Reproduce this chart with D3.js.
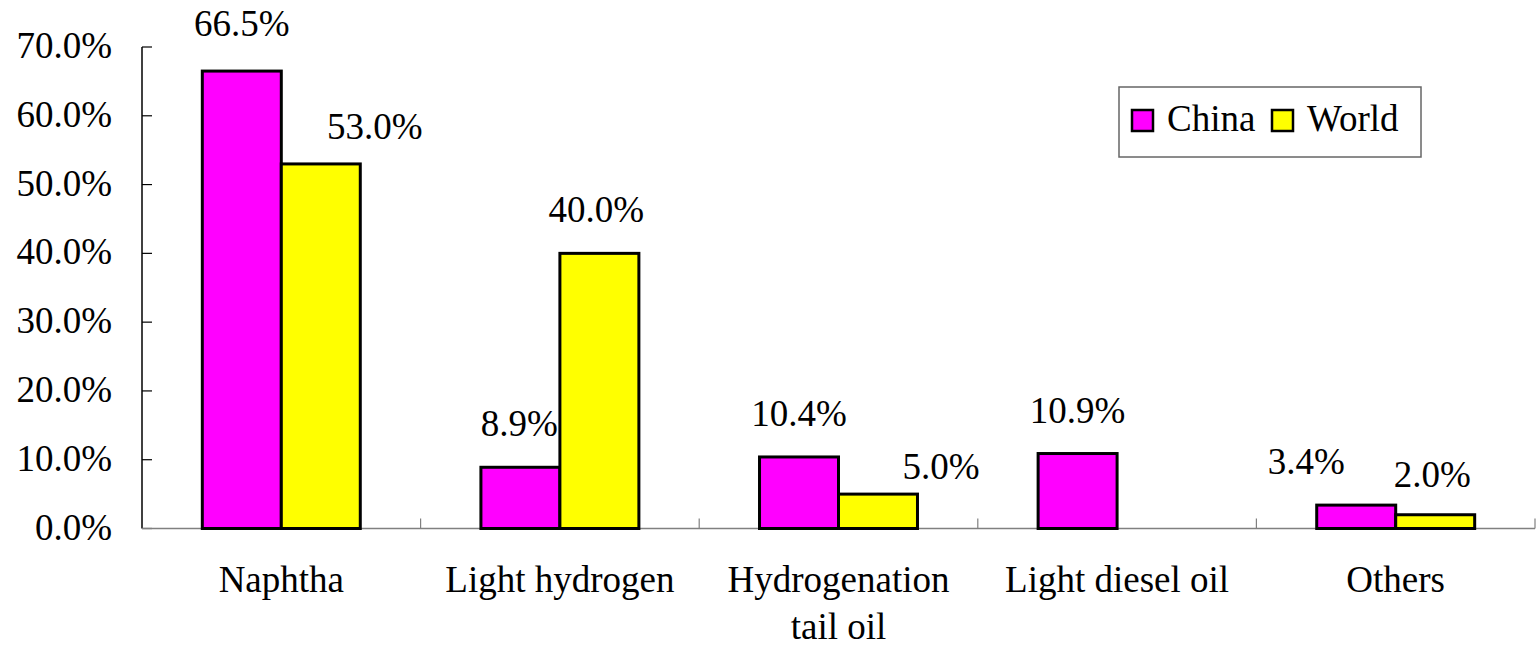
<!DOCTYPE html>
<html>
<head>
<meta charset="utf-8">
<script src="https://cdn.jsdelivr.net/npm/d3@7"></script>
<style>
  body { margin: 0; background: #fff; }
  svg text { font-family: "Liberation Serif", serif; }
</style>
</head>
<body>
<svg id="chart"></svg>
<script>
// data
var categories = ["Naphtha", "Light hydrogen", "Hydrogenation\ntail oil", "Light diesel oil", "Others"];
var seriesNames = ["China", "World"];
var chinaValues = [66.5, 8.9, 10.4, 10.9, 3.4];
var worldValues = [53.0, 40.0, 5.0, null, 2.0];
var yTicks = [0, 10, 20, 30, 40, 50, 60, 70];
var colors = ["#ff00ff", "#ffff00"];

// hand-placed label nudges (dx, dy) like the original chart
var labelNudge = [
  [[0, -4], [54, 6]],
  [[-1, 0], [-3, 0]],
  [[0, 0], [63, 16]],
  [[0, 0], [0, 0]],
  [[-50, 0], [-3, 3]]
];

function init(){
    var width = 1539,
        height = 646;
    var margin = {top: 47, right: 4, bottom: 117.5, left: 142};
    var fontSize = 37;

    var svg = d3.select("svg#chart")
      .attr("width", width)
      .attr("height", height);

    var x0 = d3.scaleBand()
      .domain(categories)
      .range([margin.left, width - margin.right]);

    // group of two bars occupies ~57% of the band
    var groupW = x0.bandwidth() * 0.567;
    var x1 = d3.scaleBand()
      .domain(seriesNames)
      .range([0, groupW]);

    var y = d3.scaleLinear()
      .domain([0, 70])
      .range([height - margin.bottom, margin.top]);

    // y axis
    var yAxis = svg.append("g")
      .attr("transform", "translate(" + margin.left + ",0)");
    yAxis.append("line")
      .attr("x1", 0).attr("x2", 0)
      .attr("y1", y(0)).attr("y2", y(70))
      .attr("stroke", "#000").attr("stroke-width", 1.5);
    yAxis.selectAll("line.tick")
      .data(yTicks)
      .enter().append("line")
        .attr("class", "tick")
        .attr("x1", 0).attr("x2", 10)
        .attr("y1", d => y(d)).attr("y2", d => y(d))
        .attr("stroke", "#000").attr("stroke-width", 1.2);
    yAxis.selectAll("text")
      .data(yTicks)
      .enter().append("text")
        .attr("x", -30)
        .attr("y", d => y(d))
        .attr("dy", "0.3em")
        .attr("text-anchor", "end")
        .style("font-size", fontSize + "px")
        .text(d => d.toFixed(1) + "%");

    // x axis
    var xAxis = svg.append("g");
    xAxis.append("line")
      .attr("x1", margin.left).attr("x2", width - margin.right)
      .attr("y1", y(0)).attr("y2", y(0))
      .attr("stroke", "#808080").attr("stroke-width", 1.5);
    var bounds = categories.map(c => x0(c)).concat([width - margin.right]);
    xAxis.selectAll("line.tick")
      .data(bounds.slice(1))
      .enter().append("line")
        .attr("class", "tick")
        .attr("x1", d => d).attr("x2", d => d)
        .attr("y1", y(0)).attr("y2", y(0) - 10)
        .attr("stroke", "#808080").attr("stroke-width", 1.2);

    var catText = xAxis.selectAll("text")
      .data(categories)
      .enter().append("text")
        .attr("text-anchor", "middle")
        .attr("transform", d => "translate(" + (x0(d) + x0.bandwidth() / 2) + "," + (y(0) + 63) + ")")
        .style("font-size", fontSize + "px");
    catText.selectAll("tspan")
      .data(d => d.split("\n"))
      .enter().append("tspan")
        .attr("x", 0)
        .attr("y", (d, i) => i * 47)
        .text(d => d);

    // bars
    var rows = categories.map(function(c, i){
        return [
          {cat: c, idx: i, s: 0, name: "China", value: chinaValues[i]},
          {cat: c, idx: i, s: 1, name: "World", value: worldValues[i]}
        ];
    });
    var groups = svg.append("g").selectAll("g")
      .data(rows)
      .enter().append("g")
        .attr("transform", d => "translate(" + (x0(d[0].cat) + (x0.bandwidth() - groupW) / 2) + ",0)");

    groups.selectAll("rect")
      .data(d => d.filter(v => v.value != null))
      .enter().append("rect")
        .attr("x", d => x1(d.name))
        .attr("y", d => y(d.value))
        .attr("width", x1.bandwidth())
        .attr("height", d => y(0) - y(d.value))
        .attr("fill", d => colors[d.s])
        .attr("stroke", "#000")
        .attr("stroke-width", 3);

    groups.selectAll("text")
      .data(d => d.filter(v => v.value != null))
      .enter().append("text")
        .attr("text-anchor", "middle")
        .attr("x", d => x1(d.name) + x1.bandwidth() / 2 + labelNudge[d.idx][d.s][0])
        .attr("y", d => y(d.value) - 31 + labelNudge[d.idx][d.s][1])
        .style("font-size", fontSize + "px")
        .text(d => d.value.toFixed(1) + "%");

    // legend
    var legend = svg.append("g").attr("transform", "translate(1119,87)");
    legend.append("rect")
      .attr("width", 302).attr("height", 70)
      .attr("fill", "#fff")
      .attr("stroke", "#666").attr("stroke-width", 1.5);
    var legendX = [13, 153];
    var items = legend.selectAll("g")
      .data(seriesNames)
      .enter().append("g")
        .attr("transform", (d, i) => "translate(" + legendX[i] + ",0)");
    items.append("rect")
      .attr("x", 0).attr("y", 23)
      .attr("width", 21).attr("height", 21)
      .attr("fill", (d, i) => colors[i])
      .attr("stroke", "#000").attr("stroke-width", 2.5);
    items.append("text")
      .attr("x", 35).attr("y", 44)
      .style("font-size", fontSize + "px")
      .text(d => d);
}

init();
</script>
</body>
</html>
